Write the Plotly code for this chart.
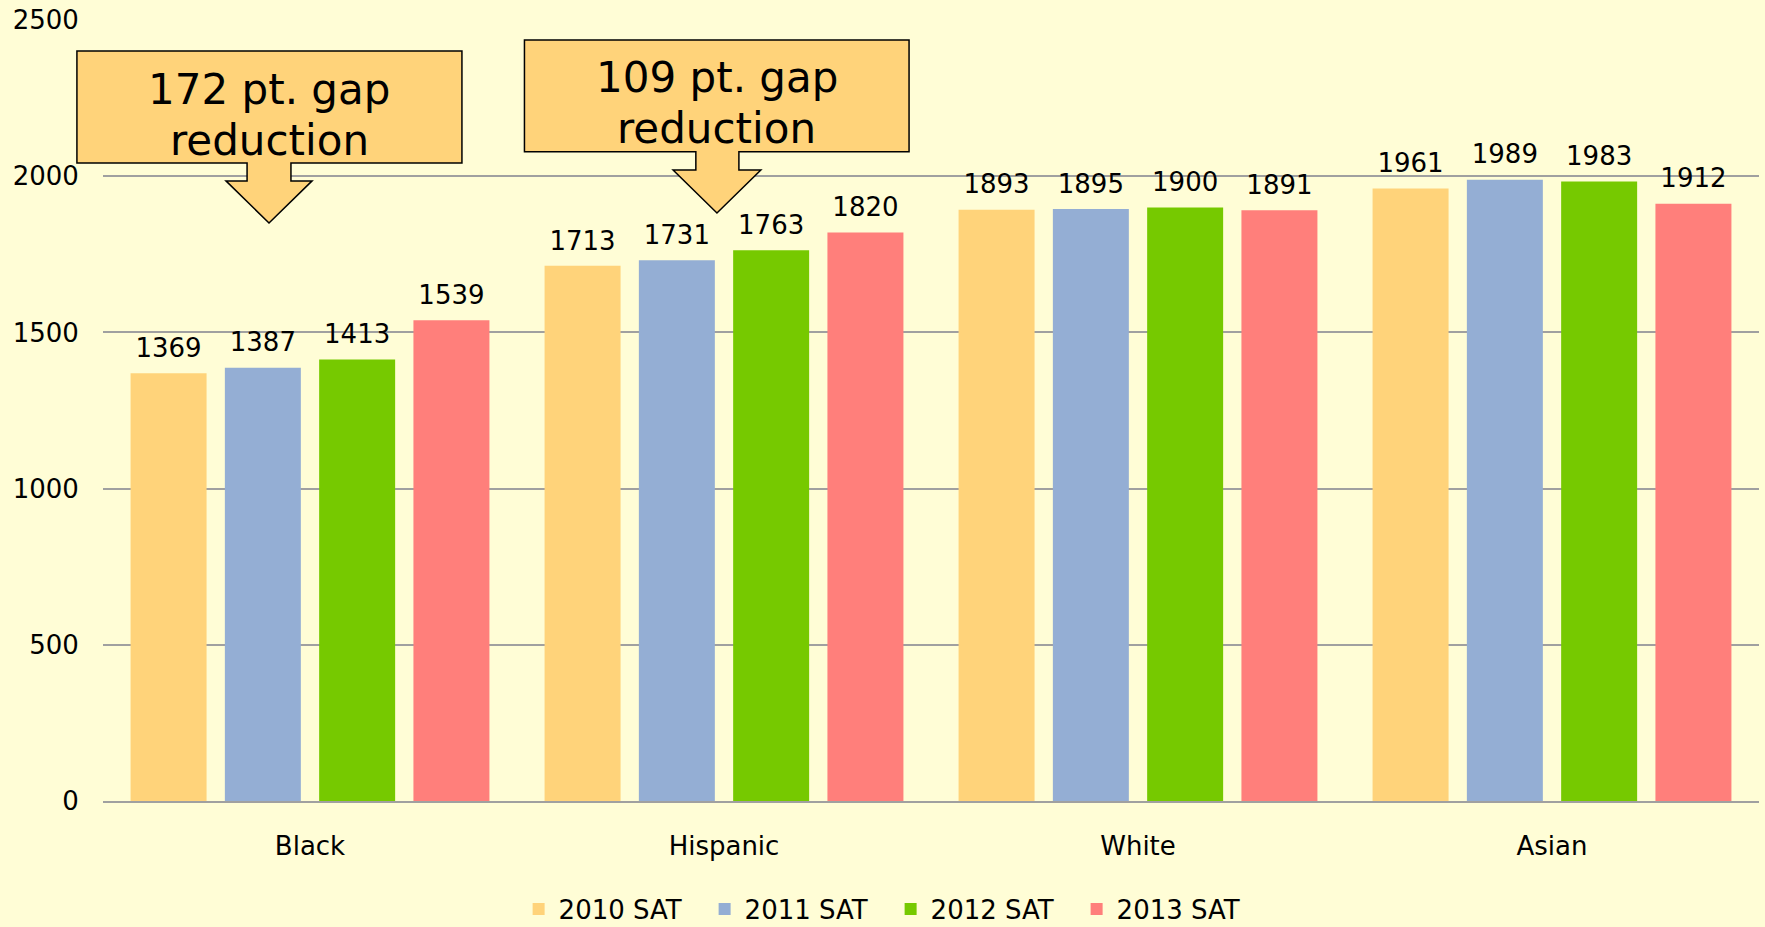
#!/usr/bin/env python3
"""
SAT scores by ethnicity, 2010-2013, with gap-reduction callouts
"""

import plotly.graph_objects as go

# Data
groups = ["Black", "Hispanic", "White", "Asian"]
series_names = ["2010 SAT", "2011 SAT", "2012 SAT", "2013 SAT"]
sat_2010 = [1369, 1713, 1893, 1961]
sat_2011 = [1387, 1731, 1895, 1989]
sat_2012 = [1413, 1763, 1900, 1983]
sat_2013 = [1539, 1820, 1891, 1912]
y_ticks = [0, 500, 1000, 1500, 2000, 2500]

colors = ["#FFD37A", "#94AED4", "#76C900", "#FF7F7B"]
BG = "#FFFDD6"
FONT = "DejaVu Sans"
Y_MAX = 2500

# Callout boxes: (line 1, line 2, box left/right in category units, box top/bottom in score,
#                 shaft left/right, head left/right, tip x, head top y, tip y)
callouts = [
    ("172 pt. gap", "reduction", -0.563, 0.367, 2401, 2042,
     -0.152, -0.046, -0.203, 0.005, -0.099, 1985, 1850),
    ("109 pt. gap", "reduction", 0.518, 1.447, 2436, 2078,
     0.932, 1.036, 0.877, 1.089, 0.983, 2020, 1882),
]


def px(xc):
    """category units -> paper x"""
    return (xc + 0.5) / len(groups)


def py(v):
    """score -> paper y"""
    return v / Y_MAX


def make_figure():
    fig = go.Figure()

    all_vals = [sat_2010, sat_2011, sat_2012, sat_2013]
    for i, (name, vals, col) in enumerate(zip(series_names, all_vals, colors)):
        fig.add_trace(go.Bar(
            x=groups, y=vals, name=name,
            marker=dict(color=col, line=dict(width=0)),
            offsetgroup=str(i), alignmentgroup="g",
            hoverinfo="x+y+name",
        ))
    # value labels, grouped like the bars so they sit above each one
    for i, vals in enumerate(all_vals):
        fig.add_trace(go.Scatter(
            x=groups, y=vals, mode="markers+text",
            text=[str(v) for v in vals], textposition="top center",
            textfont=dict(size=26, color="black", family=FONT),
            marker=dict(size=14, opacity=0),
            offsetgroup=str(i), alignmentgroup="g",
            showlegend=False, hoverinfo="skip", cliponaxis=False,
        ))

    # callout shapes (box + down arrow as one outline)
    for (line1, line2, bl, br, bt, bb, sl, sr, hl, hr, tx, ht, ty) in callouts:
        pts = [
            (bl, bt), (br, bt), (br, bb), (sr, bb), (sr, ht), (hr, ht),
            (tx, ty), (hl, ht), (sl, ht), (sl, bb), (bl, bb),
        ]
        path = "M " + " L ".join(f"{px(a):.5f},{py(b):.5f}" for a, b in pts) + " Z"
        fig.add_shape(
            type="path", path=path, xref="paper", yref="paper",
            fillcolor="#FFD37A", line=dict(color="black", width=1.5),
            layer="above",
        )
        for txt, shift in [(line1, 18), (line2, -33)]:
            fig.add_annotation(
                text=txt, xref="paper", yref="paper",
                x=px((bl + br) / 2), y=py((bt + bb) / 2), yshift=shift,
                xanchor="center", yanchor="middle",
                showarrow=False, align="center",
                font=dict(size=42, color="black", family=FONT),
            )

    fig.update_layout(
        width=1765, height=927,
        paper_bgcolor=BG, plot_bgcolor=BG,
        font=dict(family=FONT, color="black", size=26),
        barmode="group", bargap=0.089, bargroupgap=0.194,
        scattermode="group", scattergap=0.089,
        margin=dict(l=103, r=6, t=20, b=126),
        showlegend=True,
        legend=dict(
            orientation="h", xref="container", yref="container",
            x=0.5046, xanchor="center", y=0.0194, yanchor="middle",
            font=dict(size=26, family=FONT, color="black"),
            entrywidth=141,
            bgcolor="rgba(0,0,0,0)",
        ),
    )
    fig.update_xaxes(
        showgrid=False, showline=True, linecolor="#A0A0A0", linewidth=1.5,
        ticks="outside", ticklen=21, tickcolor="rgba(0,0,0,0)",
        tickfont=dict(size=26, family=FONT, color="black"),
    )
    fig.update_yaxes(
        range=[0, Y_MAX], tickvals=y_ticks, showgrid=True,
        gridcolor="#A0A0A0", gridwidth=1.5, zeroline=False, showline=False,
        ticks="outside", ticklen=18, tickcolor="rgba(0,0,0,0)",
        ticklabeloverflow="allow",
        tickfont=dict(size=26, family=FONT, color="black"),
    )
    return fig


def main():
    fig = make_figure()
    # drop the default page margin so the chart fills the window
    fig.write_html(
        "out.html",
        config={"displayModeBar": False},
        post_script="document.body.style.margin='0px';"
                    "document.body.style.background='" + BG + "';",
    )


if __name__ == "__main__":
    main()
